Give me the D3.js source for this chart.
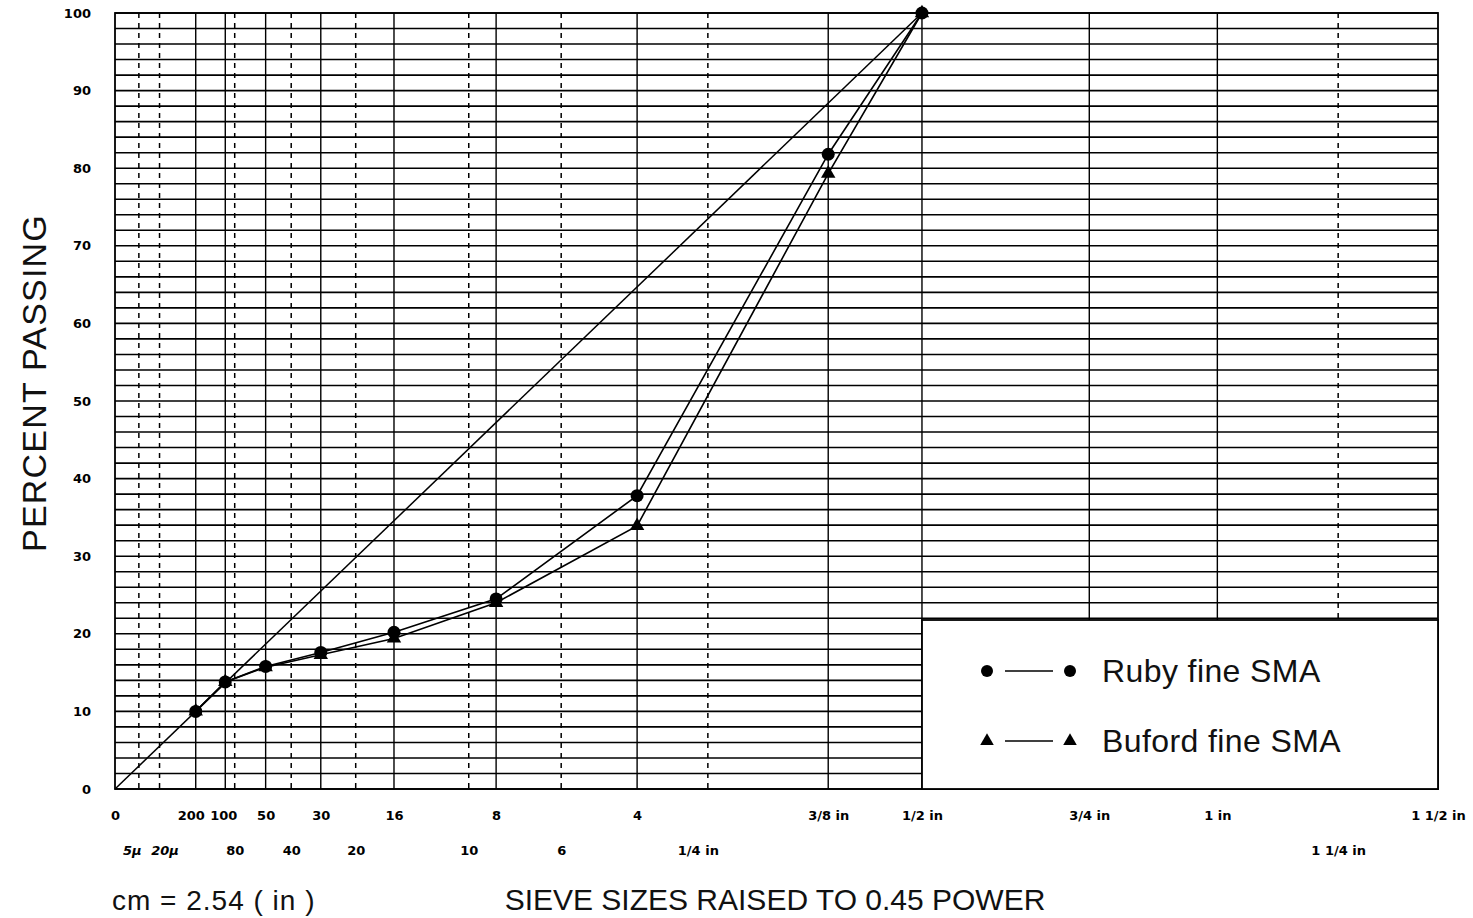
<!DOCTYPE html>
<html lang="en">
    <head>
        <meta charset="UTF-8">
        <title>0.45 power gradation chart</title>
        <script src="https://d3js.org/d3.v7.min.js"></script>
        <style>
        body { margin: 0; background: #fff; }
        .tick-lbl { font: bold 13px "DejaVu Sans", sans-serif; fill: #000; }
        .title { font-family: "Liberation Sans", Arial, sans-serif; fill: #111; }
        </style>
    </head>
    <body>
        <svg width="1473" height="918"></svg>
        <script>
        // sieve sizes in mm
        const topSieves = [0, 0.075, 0.15, 0.3, 0.6, 1.18, 2.36, 4.75, 9.5, 12.5, 19, 25, 37.5];
        const topLabels = ["0", "200", "100", "50", "30", "16", "8", "4", "3/8 in", "1/2 in", "3/4 in", "1 in", "1 1/2 in"];
        const lowSieves = [0.005, 0.02, 0.18, 0.425, 0.85, 2.0, 3.35, 6.3, 31.5];
        const lowLabels = ["5μ", "20μ", "80", "40", "20", "10", "6", "1/4 in", "1 1/4 in"];

        const dataSieves = [0.075, 0.15, 0.3, 0.6, 1.18, 2.36, 4.75, 9.5, 12.5];
        const ruby = [10, 13.8, 15.8, 17.6, 20.2, 24.5, 37.8, 81.8, 100];
        const buford = [10, 13.8, 15.7, 17.3, 19.4, 24.0, 33.9, 79.3, 100];
        // maximum density line: origin to nominal max size at 100 %
        const maxLineSieves = [0, 12.5];
        const maxLineValues = [0, 100];

        const yTicks = d3.range(0, 101, 10);
        const yGrid = d3.range(0, 101, 2);

        const pLeft = 115, pRight = 1438, pTop = 13, pBottom = 789;

        const svg = d3.select("svg");

        const x = d3.scalePow().exponent(0.45)
            .domain([0, 37.5])
            .range([pLeft, pRight]);
        const y = d3.scaleLinear()
            .domain([0, 100])
            .range([pBottom, pTop]);

        // horizontal grid every 2 %
        svg.append("g").selectAll("line")
            .data(yGrid)
            .join("line")
            .attr("x1", pLeft).attr("x2", pRight)
            .attr("y1", d => y(d)).attr("y2", d => y(d))
            .attr("stroke", "#000").attr("stroke-width", 1.6);

        // solid verticals at the top row sieves
        svg.append("g").selectAll("line")
            .data(topSieves.slice(1, -1))
            .join("line")
            .attr("x1", d => x(d)).attr("x2", d => x(d))
            .attr("y1", pTop).attr("y2", pBottom)
            .attr("stroke", "#000").attr("stroke-width", 1.4);

        // dashed verticals at the lower row sieves
        svg.append("g").selectAll("line")
            .data(lowSieves)
            .join("line")
            .attr("x1", d => x(d)).attr("x2", d => x(d))
            .attr("y1", pTop).attr("y2", pBottom)
            .attr("stroke", "#000").attr("stroke-width", 1.5)
            .attr("stroke-dasharray", "5,5");

        // frame
        svg.append("rect")
            .attr("x", pLeft).attr("y", pTop)
            .attr("width", pRight - pLeft).attr("height", pBottom - pTop)
            .attr("fill", "none").attr("stroke", "#000").attr("stroke-width", 1.8);

        // axis labels
        const xTop = svg.append("g")
            .attr("transform", `translate(0,${pBottom})`)
            .call(d3.axisBottom(x).tickValues(topSieves)
                .tickFormat((d, i) => topLabels[i]).tickSize(0).tickPadding(22));
        const xLow = svg.append("g")
            .attr("transform", `translate(0,${pBottom})`)
            .call(d3.axisBottom(x).tickValues(lowSieves)
                .tickFormat((d, i) => lowLabels[i]).tickSize(0).tickPadding(57));
        const yAx = svg.append("g")
            .attr("transform", `translate(${pLeft},0)`)
            .call(d3.axisLeft(y).tickValues(yTicks).tickSize(0).tickPadding(24));
        [xTop, xLow, yAx].forEach(g => {
            g.select(".domain").remove();
            g.selectAll("text").attr("class", "tick-lbl").attr("fill", "#000");
        });
        // nudge the crowded labels at the fine end apart
        xTop.selectAll("text").attr("dx", (d, i) => i === 1 ? -5 : i === 2 ? -2 : 0);
        xLow.selectAll("text")
            .attr("dx", (d, i) => i === 0 ? -7 : i === 1 ? 5 : i === 7 ? -10 : 0)
            .style("font-style", (d, i) => i < 2 ? "italic" : null);

        // lines
        const line = d3.line().x(d => x(d[0])).y(d => y(d[1]));
        svg.append("path")
            .datum(maxLineSieves.map((s, i) => [s, maxLineValues[i]]))
            .attr("d", line)
            .attr("fill", "none").attr("stroke", "#000").attr("stroke-width", 1.5);
        svg.append("path")
            .datum(dataSieves.map((s, i) => [s, ruby[i]]))
            .attr("d", line)
            .attr("fill", "none").attr("stroke", "#000").attr("stroke-width", 1.6);
        svg.append("path")
            .datum(dataSieves.map((s, i) => [s, buford[i]]))
            .attr("d", line)
            .attr("fill", "none").attr("stroke", "#000").attr("stroke-width", 1.6);

        const tri = d3.symbol().type(d3.symbolTriangle).size(90);
        svg.append("g").selectAll("path")
            .data(dataSieves.map((s, i) => [s, buford[i]]))
            .join("path")
            .attr("d", tri)
            .attr("transform", d => `translate(${x(d[0])},${y(d[1])})`)
            .attr("fill", "#000");
        svg.append("g").selectAll("circle")
            .data(dataSieves.map((s, i) => [s, ruby[i]]))
            .join("circle")
            .attr("cx", d => x(d[0])).attr("cy", d => y(d[1]))
            .attr("r", 6.5)
            .attr("fill", "#000");

        // legend box
        const lg = svg.append("g");
        lg.append("rect")
            .attr("x", 922).attr("y", 620)
            .attr("width", pRight - 922).attr("height", pBottom - 620)
            .attr("fill", "#fff").attr("stroke", "#000").attr("stroke-width", 1.8);
        const legendRows = [
            { name: "Ruby fine SMA", mark: "circle", cy: 671 },
            { name: "Buford fine SMA", mark: "tri", cy: 741 }
        ];
        legendRows.forEach(r => {
            [987, 1070].forEach(cx => {
                if (r.mark === "circle") {
                    lg.append("circle").attr("cx", cx).attr("cy", r.cy).attr("r", 6).attr("fill", "#000");
                } else {
                    lg.append("path").attr("d", d3.symbol().type(d3.symbolTriangle).size(80))
                        .attr("transform", `translate(${cx},${r.cy})`).attr("fill", "#000");
                }
            });
            lg.append("line")
                .attr("x1", 1005).attr("x2", 1053)
                .attr("y1", r.cy).attr("y2", r.cy)
                .attr("stroke", "#000").attr("stroke-width", 1.3);
            lg.append("text")
                .attr("class", "title")
                .attr("x", 1102).attr("y", r.cy + 11)
                .attr("font-size", 32)
                .attr("letter-spacing", 0.4)
                .text(r.name);
        });

        // titles
        svg.append("text")
            .attr("class", "title")
            .attr("transform", "translate(46,383) rotate(-90)")
            .attr("text-anchor", "middle")
            .attr("font-size", 34)
            .attr("letter-spacing", 1.2)
            .text("PERCENT PASSING");
        svg.append("text")
            .attr("class", "title")
            .attr("x", 775).attr("y", 910)
            .attr("text-anchor", "middle")
            .attr("font-size", 30)
            .text("SIEVE SIZES RAISED TO 0.45 POWER");
        svg.append("text")
            .attr("class", "title")
            .attr("x", 112).attr("y", 910)
            .attr("font-size", 28)
            .attr("letter-spacing", 1)
            .text("cm = 2.54 ( in )");
        </script>
    </body>
</html>
